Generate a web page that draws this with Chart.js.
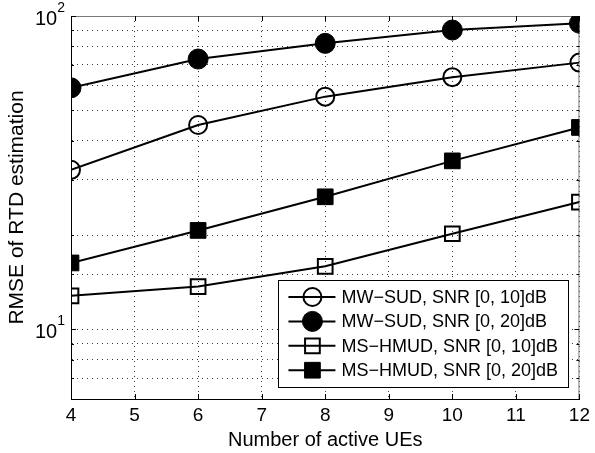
<!DOCTYPE html>
<html>
<head>
<meta charset="utf-8">
<script src="https://cdn.jsdelivr.net/npm/chart.js@4/dist/chart.umd.min.js"></script>
<style>
  html, body { margin: 0; padding: 0; background: #fff; }
  #wrap { width: 595px; height: 453px; }
</style>
</head>
<body>
<div id="wrap"><canvas id="c" width="595" height="453"></canvas></div>
<script>
// Number of active UEs on the x axis
const activeUEs = [4, 6, 8, 10, 12];

// RMSE of RTD estimation for each scheme / SNR range
const mwSud10  = [32.3, 44.9, 55.3, 63.8, 71.0];
const mwSud20  = [59.0, 72.9, 81.8, 90.2, 94.8];
const msHmud10 = [12.8, 13.7, 15.9, 20.2, 25.5];
const msHmud20 = [16.3, 20.7, 26.5, 34.5, 44.1];

const seriesNames = [
  'MW\u2212SUD, SNR [0, 10]dB',
  'MW\u2212SUD, SNR [0, 20]dB',
  'MS\u2212HMUD, SNR [0, 10]dB',
  'MS\u2212HMUD, SNR [0, 20]dB'
];

// Decade labels on the log y axis (base and exponent)
const yDecades = [10, 100];
const yDecadeBase = ['10', '10'];
const yDecadeExp = ['1', '2'];

const FONT = '"Liberation Sans", Arial, Helvetica, sans-serif';

function toPoints(values) {
  return activeUEs.map((x, i) => ({ x: x, y: values[i] }));
}

const markerStyles = [
  { pointStyle: 'circle', pointRadius: 9,    pointBorderWidth: 2, pointBackgroundColor: 'rgba(0,0,0,0)' },
  { pointStyle: 'circle', pointRadius: 10,   pointBorderWidth: 1, pointBackgroundColor: '#000' },
  { pointStyle: 'rect',   pointRadius: 10.4, pointBorderWidth: 2, pointBackgroundColor: 'rgba(0,0,0,0)' },
  { pointStyle: 'rect',   pointRadius: 11.1, pointBorderWidth: 1, pointBackgroundColor: '#000' }
];

const seriesValues = [mwSud10, mwSud20, msHmud10, msHmud20];

const datasets = seriesValues.map((vals, i) => Object.assign({
  label: seriesNames[i],
  data: toPoints(vals),
  borderColor: '#000',
  borderWidth: 2,
  pointBorderColor: '#000',
  fill: false,
  tension: 0
}, markerStyles[i]));

// Box lines, inward tick marks, decade labels and legend
const decorPlugin = {
  id: 'decor',
  beforeDatasetsDraw(chart) {
    const ctx = chart.ctx;
    const a = chart.chartArea;
    const xs = chart.scales.x, ys = chart.scales.y;
    ctx.save();
    // top and right box edges
    ctx.strokeStyle = '#7a7a7a';
    ctx.lineWidth = 1;
    ctx.beginPath();
    ctx.moveTo(a.left, a.top + 0.5);
    ctx.lineTo(a.right, a.top + 0.5);
    ctx.moveTo(a.right - 0.5, a.top);
    ctx.lineTo(a.right - 0.5, a.bottom);
    ctx.stroke();
    // inward ticks
    ctx.strokeStyle = '#000';
    ctx.beginPath();
    xs.ticks.forEach(t => {
      const px = Math.round(xs.getPixelForValue(t.value)) + 0.5;
      ctx.moveTo(px, a.bottom);
      ctx.lineTo(px, a.bottom - 5);
      ctx.moveTo(px, a.top);
      ctx.lineTo(px, a.top + 5);
    });
    ys.ticks.forEach(t => {
      const py = Math.round(ys.getPixelForValue(t.value)) + 0.5;
      const len = yDecades.includes(t.value) ? 5 : 3;
      ctx.moveTo(a.left, py);
      ctx.lineTo(a.left + len, py);
      ctx.moveTo(a.right, py);
      ctx.lineTo(a.right - len, py);
    });
    ctx.stroke();
    ctx.restore();
  },
  afterDraw(chart) {
    const ctx = chart.ctx;
    const a = chart.chartArea;
    const ys = chart.scales.y;
    ctx.save();
    ctx.fillStyle = '#000';
    ctx.textBaseline = 'alphabetic';
    // decade labels 10^1, 10^2
    yDecades.forEach((v, i) => {
      const py = ys.getPixelForValue(v);
      ctx.font = '14px ' + FONT;
      const ew = ctx.measureText(yDecadeExp[i]).width;
      const right = a.left - 6;
      ctx.textAlign = 'right';
      ctx.fillText(yDecadeExp[i], right, py - 4);
      ctx.font = '20px ' + FONT;
      ctx.fillText(yDecadeBase[i], right - ew, py + 9);
    });

    // legend box
    const w = 290, h = 107;
    const lx = a.right - 11 - w;
    const ly = a.bottom - 12 - h;
    ctx.fillStyle = '#fff';
    ctx.fillRect(lx, ly, w, h);
    ctx.strokeStyle = '#000';
    ctx.lineWidth = 1;
    ctx.strokeRect(Math.round(lx) + 0.5, Math.round(ly) + 0.5, w, h);

    chart.data.datasets.forEach((ds, i) => {
      const ry = ly + 17 + i * 24.4;
      ctx.strokeStyle = '#000';
      ctx.lineWidth = 2;
      ctx.beginPath();
      ctx.moveTo(lx + 10, ry);
      ctx.lineTo(lx + 57, ry);
      ctx.stroke();
      ctx.fillStyle = ds.pointBackgroundColor;
      ctx.strokeStyle = '#000';
      ctx.lineWidth = ds.pointBorderWidth;
      Chart.helpers.drawPoint(ctx, {
        pointStyle: ds.pointStyle,
        radius: ds.pointRadius,
        rotation: 0,
        borderWidth: ds.pointBorderWidth
      }, lx + 34, ry);
      ctx.fillStyle = '#000';
      ctx.font = '18px ' + FONT;
      ctx.textAlign = 'left';
      ctx.textBaseline = 'middle';
      ctx.fillText(ds.label, lx + 63, ry + 1);
    });
    ctx.restore();
  }
};

new Chart(document.getElementById('c'), {
  type: 'line',
  data: { datasets: datasets },
  plugins: [decorPlugin],
  options: {
    responsive: false,
    devicePixelRatio: 1,
    animation: false,
    layout: { padding: { left: 0, right: 11, top: 16, bottom: 0 } },
    plugins: {
      legend: { display: false },
      tooltip: { enabled: false }
    },
    scales: {
      x: {
        type: 'linear',
        min: 4,
        max: 12,
        afterFit(scale) { scale.height = 54; },
        ticks: {
          stepSize: 1,
          autoSkip: false,
          maxRotation: 0,
          color: '#000',
          padding: 5,
          font: { family: FONT, size: 19 }
        },
        grid: {
          color: '#3a3a3a',
          lineWidth: 1,
          drawTicks: false
        },
        border: { display: true, color: '#000', width: 1, dash: [1, 4] },
        title: {
          display: true,
          text: 'Number of active UEs',
          color: '#000',
          font: { family: FONT, size: 20 },
          padding: { top: 0, bottom: 1 }
        }
      },
      y: {
        type: 'logarithmic',
        min: 6,
        max: 100,
        afterFit(scale) { scale.width = 71; },
        ticks: { display: false, autoSkip: false },
        grid: {
          color: '#3a3a3a',
          lineWidth: 1,
          drawTicks: false
        },
        border: { display: true, color: '#000', width: 1, dash: [1, 4] },
        title: {
          display: true,
          text: 'RMSE of RTD estimation',
          color: '#000',
          font: { family: FONT, size: 21 },
          padding: { top: 5, bottom: 0 }
        }
      }
    }
  }
});
</script>
</body>
</html>
